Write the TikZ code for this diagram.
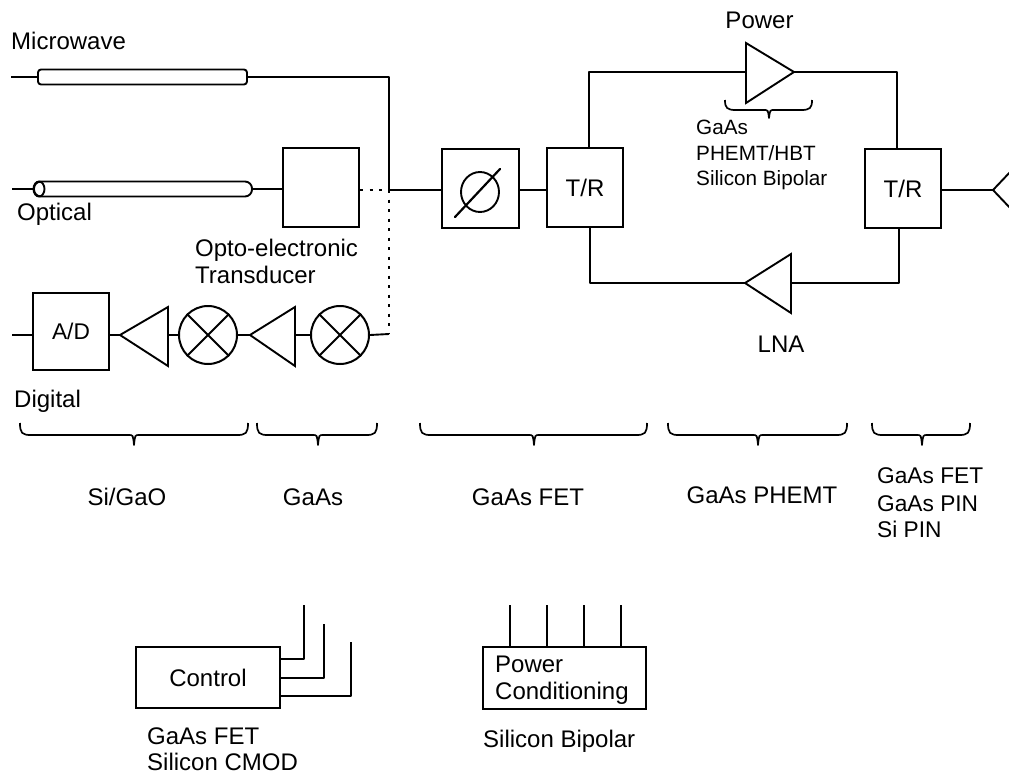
\documentclass[tikz,border=0pt]{standalone}
\usepackage{fontspec}
\setmainfont{Liberation Sans}
\usetikzlibrary{shapes.geometric}
\tikzset{
  wire/.style={line width=1.9pt,line join=round},
  dotwire/.style={line width=2.1pt,dash pattern=on 3pt off 6.5pt},
  tbox/.style={draw,line width=2pt,inner sep=0pt,font=\fontsize{24}{29}\selectfont},
  mixer/.style={draw,circle,line width=2pt,minimum size=58pt,inner sep=0pt},
  amp/.style={line width=1.9pt,line join=miter},
  lab/.style={inner sep=0pt,anchor=base west,font=\fontsize{24}{29}\selectfont},
  labc/.style={inner sep=0pt,anchor=base,font=\fontsize{24}{29}\selectfont},
  mids/.style={font=\fontsize{22.7}{27}\selectfont},
  small/.style={font=\fontsize{20.7}{25}\selectfont},
  tube/.style={draw,line width=1.9pt,rounded corners=3pt,inner sep=0pt},
  brc/.style={line width=1.7pt,line join=round}
}
% left, tip x, right, top y, bar drop, tip drop
\newcommand{\bracebelow}[6]{%
  \draw[brc] (#1,#4) .. controls (#1,#4+#5-2) and (#1+2,#4+#5) .. (#1+11,#4+#5)
    -- (#2-5,#4+#5) .. controls (#2-1,#4+#5) .. (#2,#4+#6)
    .. controls (#2+1,#4+#5) .. (#2+5,#4+#5)
    -- (#3-11,#4+#5) .. controls (#3-2,#4+#5) and (#3,#4+#5-2) .. (#3,#4);
}
\begin{document}
\begin{tikzpicture}[x=1pt,y=-1pt]
\useasboundingbox (0,0) rectangle (1009,774);
\clip (0,0) rectangle (1009,774);

% labels
\node[lab] (lmw) at (11,49) {Microwave};
\node[lab] (lop) at (17,220) {Optical};
\node[lab] (ltr) at (195,256) {Opto-electronic};
\node[lab] (ltr2) at (195,283) {Transducer};
\node[lab] (ldg) at (14,407) {Digital};
\node[labc] (lpw) at (759.5,28) {Power};
\node[labc] (lln) at (781,352) {LNA};
\node[lab,small] (p1) at (696,134) {GaAs};
\node[lab,small] (p2) at (696,160) {PHEMT/HBT};
\node[lab,small] (p3) at (696,185) {Silicon Bipolar};

% microwave row
\coordinate (mw0) at (11,77);
\node[tube,minimum width=209pt,minimum height=15pt] (mw) at (142.5,77) {};
\coordinate (jt) at (389,77);
\coordinate (jn) at (389,190);
\draw[wire] (mw0) -- (mw.west);
\draw[wire] (mw.east) -- (jt) -- (jn);

% optical row
\coordinate (op0) at (12,189);
\node[draw,line width=1.9pt,rounded corners=7pt,inner sep=0pt,minimum width=218pt,minimum height=15pt] (op) at (143,189) {};
\node[draw,ellipse,line width=1.9pt,inner sep=0pt,minimum width=11pt,minimum height=15pt] (ope) at (39,189) {};
\node[tbox,minimum width=76pt,minimum height=79pt] (oet) at (321,187.5) {};
\draw[wire] (op0) -- (ope.west);
\draw[wire] (op.east) -- (oet.west |- op.east);
\draw[dotwire] (oet.east |- jn) -- (jn);

% phase + T/R
\node[tbox,minimum width=77pt,minimum height=79pt] (ph) at (480.5,188.5) {};
\node[tbox,minimum width=76pt,minimum height=79pt] (tr1) at (585,187.5) {T/R};
\node[tbox,minimum width=76pt,minimum height=79pt] (tr2) at (903,188.5) {T/R};
\node[draw,ellipse,line width=1.9pt,inner sep=0pt,minimum width=38pt,minimum height=40pt] (phc) at (480,192) {};
\draw[line width=2.2pt,line cap=round] (455,217) -- (500,169);
\draw[wire] (jn) -- (ph.west |- jn);
\draw[wire] (ph.east |- jn) -- (tr1.west |- jn);

% power amp loop
\coordinate (pa1) at (746,43);
\coordinate (pa2) at (746,103);
\coordinate (pa3) at (794,72);
\coordinate (paw) at (746,72);
\draw[amp] (pa1) -- (pa3) -- (pa2) -- cycle;
\coordinate (u1) at (589,72);
\coordinate (u2) at (897,72);
\draw[wire] (589,148) -- (u1) -- (paw);
\draw[wire] (pa3) -- (u2) -- (897,149);

\coordinate (ln1) at (791,254);
\coordinate (ln2) at (791,313);
\coordinate (ln3) at (745,283);
\coordinate (lne) at (791,283);
\draw[amp] (ln1) -- (ln3) -- (ln2) -- cycle;
\coordinate (b1) at (590,283);
\coordinate (b2) at (899,283);
\draw[wire] (590,227) -- (b1) -- (ln3);
\draw[wire] (lne) -- (b2) -- (899,228);

% antenna
\coordinate (an) at (993,190);
\draw[wire] (tr2.east |- an) -- (an);
\draw[wire] (1012,170) -- (an) -- (1012,210);

% digital row
\coordinate (dg0) at (12,335);
\node[tbox,minimum width=76pt,minimum height=77pt,mids] (ad) at (71,331.5) {A/D};
\draw[wire] (dg0) -- (ad.west |- dg0);
\coordinate (a1) at (120,335);
\coordinate (a1t) at (168,307);
\coordinate (a1b) at (168,366);
\coordinate (a1m) at (168,335);
\draw[amp] (a1) -- (a1t) -- (a1b) -- cycle;
\draw[wire] (ad.east |- a1) -- (a1);
\node[mixer] (m1) at (208,335) {};
\draw[line width=2pt] (m1.45) -- (m1.225) (m1.135) -- (m1.315);
\draw[wire] (a1m) -- (m1.west);
\coordinate (a2) at (250,335);
\coordinate (a2t) at (295,307);
\coordinate (a2b) at (295,366);
\coordinate (a2m) at (295,335);
\draw[amp] (a2) -- (a2t) -- (a2b) -- cycle;
\draw[wire] (m1.east) -- (a2);
\node[mixer] (m2) at (340,335) {};
\draw[line width=2pt] (m2.45) -- (m2.225) (m2.135) -- (m2.315);
\draw[wire] (a2m) -- (m2.west);
\coordinate (jd) at (389,334);
\draw[wire] (m2.east) -- (jd);
\draw[dotwire] (jn) -- (jd);

% braces
\bracebelow{725}{769}{812}{100}{10}{18}
\bracebelow{20}{134}{248}{423}{12}{22}
\bracebelow{257}{318}{377}{423}{12}{22}
\bracebelow{420}{534}{647}{423}{12}{22}
\bracebelow{668}{758}{847}{423}{12}{22}
\bracebelow{872}{922}{970}{423}{12}{22}

\node[labc] (t1) at (127,505) {Si/GaO};
\node[labc] (t2) at (313,505) {GaAs};
\node[labc] (t3) at (528,505) {GaAs FET};
\node[labc] (t4) at (762,503) {GaAs PHEMT};
\node[lab,mids] (t5) at (877,483) {GaAs FET};
\node[lab,mids] (t6) at (877,511) {GaAs PIN};
\node[lab,mids] (t7) at (877,537) {Si PIN};

% control
\node[tbox,minimum width=144pt,minimum height=61pt] (ct) at (208,677.5) {Control};
\draw[wire] (ct.east |- 0,659) -- (304,659) -- (304,605);
\draw[wire] (ct.east |- 0,678) -- (324,678) -- (324,624);
\draw[wire] (ct.east |- 0,696) -- (351,696) -- (351,642);
\node[lab] (c1) at (147,744) {GaAs FET};
\node[lab] (c2) at (147,770) {Silicon CMOD};

% power conditioning
\node[tbox,minimum width=163pt,minimum height=62pt] (pc) at (564.5,678) {};
\node[lab] (pc1) at (495,672) {Power};
\node[lab] (pc2) at (495,699) {Conditioning};
\foreach \px in {510,547,584,621}{
  \draw[wire] (pc.north -| \px,0) -- (\px,605);
}
\node[lab] (pc3) at (483,747) {Silicon Bipolar};
\end{tikzpicture}
\end{document}
